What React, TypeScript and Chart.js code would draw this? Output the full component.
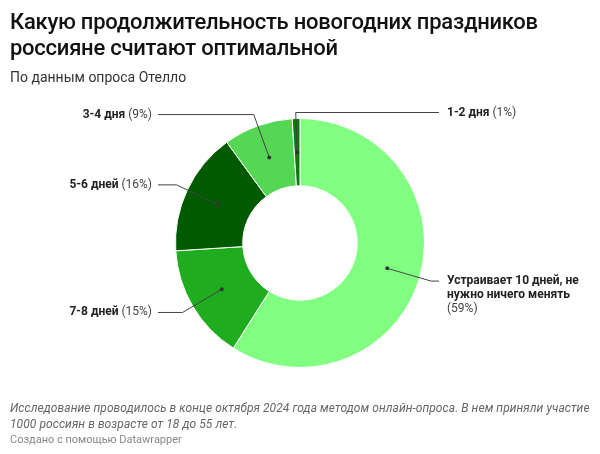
import React, { useEffect, useRef } from "react";
import { Chart, registerables } from "chart.js";

Chart.register(...registerables);

const categories: string[][] = [
  ["Устраивает 10 дней, не", "нужно ничего менять"],
  ["7-8 дней"],
  ["5-6 дней"],
  ["3-4 дня"],
  ["1-2 дня"],
];
const shares: number[] = [59, 15, 16, 9, 1];
const colors: string[] = ["#80ff80", "#1fac1f", "#005a00", "#55d655", "#0b7a0b"];

const title = ["Какую продолжительность новогодних праздников", "россияне считают оптимальной"];
const subtitle = "По данным опроса Отелло";
const notes = [
  "Исследование проводилось в конце октября 2024 года методом онлайн-опроса. В нем приняли участие",
  "1000 россиян в возрасте от 18 до 55 лет.",
];
const credit = "Создано с помощью Datawrapper";

const FONT = "Roboto, 'Noto Sans', sans-serif";

const labelPlugin = {
  id: "leaderLabels",
  afterDraw(chart: any) {
    const ctx: CanvasRenderingContext2D = chart.ctx;
    const meta = chart.getDatasetMeta(0);
    ctx.save();
    meta.data.forEach((el: any, i: number) => {
      const p = el.getProps(["x", "y", "startAngle", "endAngle", "innerRadius", "outerRadius"], true);
      const mid = (p.startAngle + p.endAngle) / 2;
      const r = (p.innerRadius + p.outerRadius) / 2;
      const dx = p.x + Math.cos(mid) * r;
      const dy = p.y + Math.sin(mid) * r;
      const er = p.outerRadius + 12;
      let ex = p.x + Math.cos(mid) * er;
      let ey = p.y + Math.sin(mid) * er;
      const minY = p.y - p.outerRadius - 6;
      if (ey < minY) ey = minY;
      const left = Math.cos(mid) < -0.1;
      const lineEnd = left ? p.x - 142 : p.x + 139;
      ctx.strokeStyle = "#444";
      ctx.lineWidth = 1;
      ctx.beginPath();
      ctx.moveTo(dx, dy);
      ctx.lineTo(ex, ey);
      ctx.lineTo(lineEnd, ey);
      ctx.stroke();
      ctx.fillStyle = "#333";
      ctx.beginPath();
      ctx.arc(dx, dy, 2, 0, Math.PI * 2);
      ctx.fill();

      const lines = categories[i];
      const pct = "(" + shares[i] + "%)";
      ctx.textBaseline = "middle";
      const boldFont = "bold 12px " + FONT;
      const regFont = "12px " + FONT;
      if (left) {
        const tx = p.x - 148;
        ctx.font = regFont;
        const wp = ctx.measureText(pct).width;
        ctx.font = boldFont;
        const wb = ctx.measureText(lines[0] + " ").width;
        ctx.textAlign = "left";
        ctx.fillStyle = "#222";
        ctx.fillText(lines[0], tx - wp - wb, ey);
        ctx.font = regFont;
        ctx.fillStyle = "#444";
        ctx.fillText(pct, tx - wp, ey);
      } else {
        const tx = p.x + 147;
        ctx.textAlign = "left";
        if (lines.length === 1) {
          ctx.font = boldFont;
          ctx.fillStyle = "#222";
          ctx.fillText(lines[0], tx, ey);
          const wb = ctx.measureText(lines[0] + " ").width;
          ctx.font = regFont;
          ctx.fillStyle = "#444";
          ctx.fillText(pct, tx + wb, ey);
        } else {
          ctx.font = boldFont;
          ctx.fillStyle = "#222";
          lines.forEach((ln, k) => ctx.fillText(ln, tx, ey + k * 14));
          ctx.font = regFont;
          ctx.fillStyle = "#444";
          ctx.fillText(pct, tx, ey + lines.length * 14);
        }
      }
    });
    ctx.restore();
  },
};

export default function App() {
  const ref = useRef<HTMLCanvasElement>(null);
  useEffect(() => {
    if (!ref.current) return;
    const chart = new Chart(ref.current, {
      type: "doughnut",
      data: {
        labels: categories.map((c) => c.join(" ")),
        datasets: [
          {
            data: shares,
            backgroundColor: colors,
            borderColor: "#ffffff",
            borderWidth: 1,
          },
        ],
      },
      options: {
        animation: false,
        responsive: false,
        maintainAspectRatio: false,
        cutout: "46%",
        rotation: 0,
        layout: { padding: { left: 175, right: 175, top: 118, bottom: 86 } },
        plugins: { legend: { display: false }, tooltip: { enabled: false } },
      },
      plugins: [labelPlugin],
    });
    return () => chart.destroy();
  }, []);

  return (
    <div style={{ position: "fixed", left: 0, top: 0, width: 600, height: 454, background: "#fff", fontFamily: FONT, overflow: "hidden" }}>
      <canvas ref={ref} width={600} height={454} style={{ position: "absolute", left: 0, top: 0, width: 600, height: 454 }} />
      <div style={{ position: "absolute", left: 10, top: 9, fontSize: 22, fontWeight: 500, lineHeight: "26px", color: "#111", letterSpacing: -0.25 }}>
        {title.map((t, i) => (
          <div key={i}>{t}</div>
        ))}
      </div>
      <div style={{ position: "absolute", left: 10, top: 69, fontSize: 14, color: "#333", lineHeight: "17px" }}>{subtitle}</div>
      <div style={{ position: "absolute", left: 10, top: 401, fontSize: 12, fontStyle: "italic", color: "#666", lineHeight: "15.5px", letterSpacing: 0.07 }}>
        {notes.map((t, i) => (
          <div key={i}>{t}</div>
        ))}
      </div>
      <div style={{ position: "absolute", left: 10, top: 433, fontSize: 11, color: "#888", lineHeight: "14px" }}>{credit}</div>
    </div>
  );
}
